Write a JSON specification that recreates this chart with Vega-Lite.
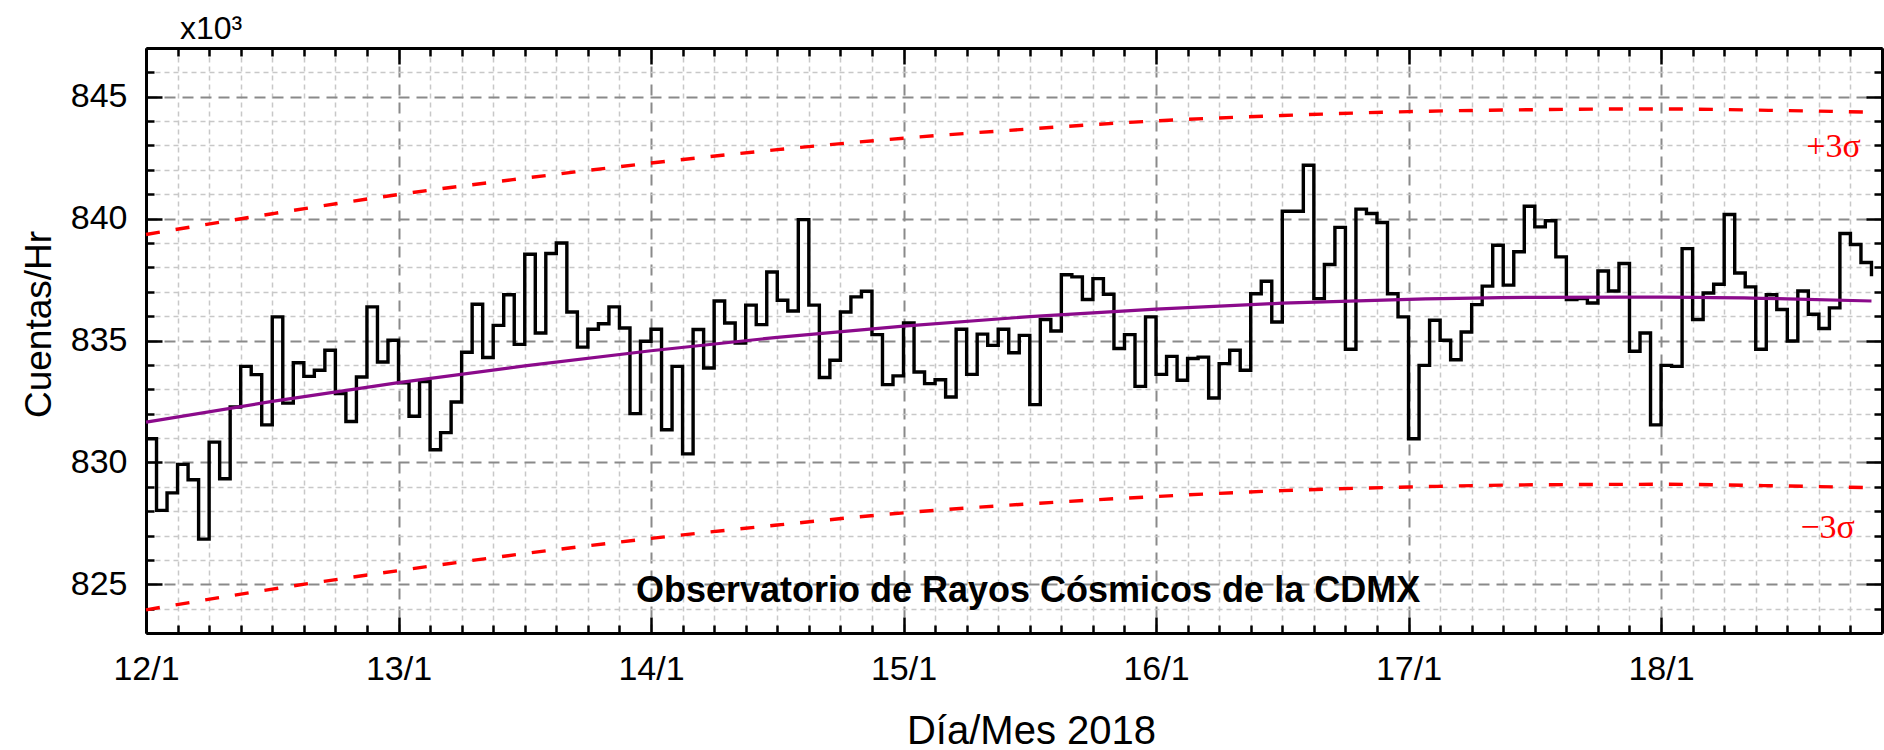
{
  "$schema": "https://vega.github.io/schema/vega-lite/v6.json",
  "width": 1736,
  "height": 585,
  "autosize": {"type": "none"},
  "padding": {"left": 146, "top": 48, "right": 2, "bottom": 117},
  "background": "white",
  "title": {"text": "x10³", "anchor": "start", "frame": "group", "dx": 34, "offset": -24, "baseline": "alphabetic", "font": "Liberation Sans", "fontSize": 32, "fontWeight": "normal", "color": "black"},
  "config": {"view": {"stroke": null}, "font": "Liberation Sans", "axis": {"labelFont": "Liberation Sans", "titleFont": "Liberation Sans"}},
  "resolve": {"axis": {"x": "independent", "y": "independent"}},
  "datasets": {
    "conteo": [
      {"fecha": "2018-01-12T00:00", "cuentas": 830970},
      {"fecha": "2018-01-12T01:00", "cuentas": 828030},
      {"fecha": "2018-01-12T02:00", "cuentas": 828750},
      {"fecha": "2018-01-12T03:00", "cuentas": 829920},
      {"fecha": "2018-01-12T04:00", "cuentas": 829290},
      {"fecha": "2018-01-12T05:00", "cuentas": 826850},
      {"fecha": "2018-01-12T06:00", "cuentas": 830830},
      {"fecha": "2018-01-12T07:00", "cuentas": 829330},
      {"fecha": "2018-01-12T08:00", "cuentas": 832270},
      {"fecha": "2018-01-12T09:00", "cuentas": 833940},
      {"fecha": "2018-01-12T10:00", "cuentas": 833600},
      {"fecha": "2018-01-12T11:00", "cuentas": 831540},
      {"fecha": "2018-01-12T12:00", "cuentas": 835970},
      {"fecha": "2018-01-12T13:00", "cuentas": 832430},
      {"fecha": "2018-01-12T14:00", "cuentas": 834090},
      {"fecha": "2018-01-12T15:00", "cuentas": 833530},
      {"fecha": "2018-01-12T16:00", "cuentas": 833780},
      {"fecha": "2018-01-12T17:00", "cuentas": 834600},
      {"fecha": "2018-01-12T18:00", "cuentas": 832820},
      {"fecha": "2018-01-12T19:00", "cuentas": 831680},
      {"fecha": "2018-01-12T20:00", "cuentas": 833500},
      {"fecha": "2018-01-12T21:00", "cuentas": 836380},
      {"fecha": "2018-01-12T22:00", "cuentas": 834120},
      {"fecha": "2018-01-12T23:00", "cuentas": 835010},
      {"fecha": "2018-01-13T00:00", "cuentas": 833260},
      {"fecha": "2018-01-13T01:00", "cuentas": 831890},
      {"fecha": "2018-01-13T02:00", "cuentas": 833320},
      {"fecha": "2018-01-13T03:00", "cuentas": 830520},
      {"fecha": "2018-01-13T04:00", "cuentas": 831220},
      {"fecha": "2018-01-13T05:00", "cuentas": 832480},
      {"fecha": "2018-01-13T06:00", "cuentas": 834520},
      {"fecha": "2018-01-13T07:00", "cuentas": 836490},
      {"fecha": "2018-01-13T08:00", "cuentas": 834300},
      {"fecha": "2018-01-13T09:00", "cuentas": 835620},
      {"fecha": "2018-01-13T10:00", "cuentas": 836880},
      {"fecha": "2018-01-13T11:00", "cuentas": 834840},
      {"fecha": "2018-01-13T12:00", "cuentas": 838540},
      {"fecha": "2018-01-13T13:00", "cuentas": 835310},
      {"fecha": "2018-01-13T14:00", "cuentas": 838570},
      {"fecha": "2018-01-13T15:00", "cuentas": 839000},
      {"fecha": "2018-01-13T16:00", "cuentas": 836170},
      {"fecha": "2018-01-13T17:00", "cuentas": 834730},
      {"fecha": "2018-01-13T18:00", "cuentas": 835460},
      {"fecha": "2018-01-13T19:00", "cuentas": 835690},
      {"fecha": "2018-01-13T20:00", "cuentas": 836380},
      {"fecha": "2018-01-13T21:00", "cuentas": 835510},
      {"fecha": "2018-01-13T22:00", "cuentas": 832000},
      {"fecha": "2018-01-13T23:00", "cuentas": 834970},
      {"fecha": "2018-01-14T00:00", "cuentas": 835460},
      {"fecha": "2018-01-14T01:00", "cuentas": 831340},
      {"fecha": "2018-01-14T02:00", "cuentas": 833940},
      {"fecha": "2018-01-14T03:00", "cuentas": 830350},
      {"fecha": "2018-01-14T04:00", "cuentas": 835450},
      {"fecha": "2018-01-14T05:00", "cuentas": 833870},
      {"fecha": "2018-01-14T06:00", "cuentas": 836620},
      {"fecha": "2018-01-14T07:00", "cuentas": 835720},
      {"fecha": "2018-01-14T08:00", "cuentas": 834900},
      {"fecha": "2018-01-14T09:00", "cuentas": 836450},
      {"fecha": "2018-01-14T10:00", "cuentas": 835650},
      {"fecha": "2018-01-14T11:00", "cuentas": 837810},
      {"fecha": "2018-01-14T12:00", "cuentas": 836650},
      {"fecha": "2018-01-14T13:00", "cuentas": 836210},
      {"fecha": "2018-01-14T14:00", "cuentas": 839960},
      {"fecha": "2018-01-14T15:00", "cuentas": 836450},
      {"fecha": "2018-01-14T16:00", "cuentas": 833480},
      {"fecha": "2018-01-14T17:00", "cuentas": 834190},
      {"fecha": "2018-01-14T18:00", "cuentas": 836170},
      {"fecha": "2018-01-14T19:00", "cuentas": 836790},
      {"fecha": "2018-01-14T20:00", "cuentas": 837020},
      {"fecha": "2018-01-14T21:00", "cuentas": 835240},
      {"fecha": "2018-01-14T22:00", "cuentas": 833190},
      {"fecha": "2018-01-14T23:00", "cuentas": 833550},
      {"fecha": "2018-01-15T00:00", "cuentas": 835720},
      {"fecha": "2018-01-15T01:00", "cuentas": 833710},
      {"fecha": "2018-01-15T02:00", "cuentas": 833230},
      {"fecha": "2018-01-15T03:00", "cuentas": 833390},
      {"fecha": "2018-01-15T04:00", "cuentas": 832680},
      {"fecha": "2018-01-15T05:00", "cuentas": 835460},
      {"fecha": "2018-01-15T06:00", "cuentas": 833610},
      {"fecha": "2018-01-15T07:00", "cuentas": 835260},
      {"fecha": "2018-01-15T08:00", "cuentas": 834800},
      {"fecha": "2018-01-15T09:00", "cuentas": 835460},
      {"fecha": "2018-01-15T10:00", "cuentas": 834500},
      {"fecha": "2018-01-15T11:00", "cuentas": 835210},
      {"fecha": "2018-01-15T12:00", "cuentas": 832370},
      {"fecha": "2018-01-15T13:00", "cuentas": 835860},
      {"fecha": "2018-01-15T14:00", "cuentas": 835390},
      {"fecha": "2018-01-15T15:00", "cuentas": 837700},
      {"fecha": "2018-01-15T16:00", "cuentas": 837610},
      {"fecha": "2018-01-15T17:00", "cuentas": 836680},
      {"fecha": "2018-01-15T18:00", "cuentas": 837540},
      {"fecha": "2018-01-15T19:00", "cuentas": 836900},
      {"fecha": "2018-01-15T20:00", "cuentas": 834670},
      {"fecha": "2018-01-15T21:00", "cuentas": 835240},
      {"fecha": "2018-01-15T22:00", "cuentas": 833120},
      {"fecha": "2018-01-15T23:00", "cuentas": 835970},
      {"fecha": "2018-01-16T00:00", "cuentas": 833610},
      {"fecha": "2018-01-16T01:00", "cuentas": 834350},
      {"fecha": "2018-01-16T02:00", "cuentas": 833370},
      {"fecha": "2018-01-16T03:00", "cuentas": 834260},
      {"fecha": "2018-01-16T04:00", "cuentas": 834320},
      {"fecha": "2018-01-16T05:00", "cuentas": 832640},
      {"fecha": "2018-01-16T06:00", "cuentas": 834050},
      {"fecha": "2018-01-16T07:00", "cuentas": 834600},
      {"fecha": "2018-01-16T08:00", "cuentas": 833780},
      {"fecha": "2018-01-16T09:00", "cuentas": 836920},
      {"fecha": "2018-01-16T10:00", "cuentas": 837430},
      {"fecha": "2018-01-16T11:00", "cuentas": 835760},
      {"fecha": "2018-01-16T12:00", "cuentas": 840300},
      {"fecha": "2018-01-16T13:00", "cuentas": 840300},
      {"fecha": "2018-01-16T14:00", "cuentas": 842190},
      {"fecha": "2018-01-16T15:00", "cuentas": 836720},
      {"fecha": "2018-01-16T16:00", "cuentas": 838120},
      {"fecha": "2018-01-16T17:00", "cuentas": 839640},
      {"fecha": "2018-01-16T18:00", "cuentas": 834640},
      {"fecha": "2018-01-16T19:00", "cuentas": 840390},
      {"fecha": "2018-01-16T20:00", "cuentas": 840210},
      {"fecha": "2018-01-16T21:00", "cuentas": 839840},
      {"fecha": "2018-01-16T22:00", "cuentas": 836920},
      {"fecha": "2018-01-16T23:00", "cuentas": 835970},
      {"fecha": "2018-01-17T00:00", "cuentas": 830970},
      {"fecha": "2018-01-17T01:00", "cuentas": 833980},
      {"fecha": "2018-01-17T02:00", "cuentas": 835830},
      {"fecha": "2018-01-17T03:00", "cuentas": 835010},
      {"fecha": "2018-01-17T04:00", "cuentas": 834210},
      {"fecha": "2018-01-17T05:00", "cuentas": 835350},
      {"fecha": "2018-01-17T06:00", "cuentas": 836470},
      {"fecha": "2018-01-17T07:00", "cuentas": 837230},
      {"fecha": "2018-01-17T08:00", "cuentas": 838910},
      {"fecha": "2018-01-17T09:00", "cuentas": 837270},
      {"fecha": "2018-01-17T10:00", "cuentas": 838640},
      {"fecha": "2018-01-17T11:00", "cuentas": 840510},
      {"fecha": "2018-01-17T12:00", "cuentas": 839660},
      {"fecha": "2018-01-17T13:00", "cuentas": 839910},
      {"fecha": "2018-01-17T14:00", "cuentas": 838430},
      {"fecha": "2018-01-17T15:00", "cuentas": 836680},
      {"fecha": "2018-01-17T16:00", "cuentas": 836720},
      {"fecha": "2018-01-17T17:00", "cuentas": 836540},
      {"fecha": "2018-01-17T18:00", "cuentas": 837850},
      {"fecha": "2018-01-17T19:00", "cuentas": 837030},
      {"fecha": "2018-01-17T20:00", "cuentas": 838160},
      {"fecha": "2018-01-17T21:00", "cuentas": 834560},
      {"fecha": "2018-01-17T22:00", "cuentas": 835310},
      {"fecha": "2018-01-17T23:00", "cuentas": 831540},
      {"fecha": "2018-01-18T00:00", "cuentas": 833980},
      {"fecha": "2018-01-18T01:00", "cuentas": 833940},
      {"fecha": "2018-01-18T02:00", "cuentas": 838770},
      {"fecha": "2018-01-18T03:00", "cuentas": 835860},
      {"fecha": "2018-01-18T04:00", "cuentas": 836950},
      {"fecha": "2018-01-18T05:00", "cuentas": 837310},
      {"fecha": "2018-01-18T06:00", "cuentas": 840170},
      {"fecha": "2018-01-18T07:00", "cuentas": 837770},
      {"fecha": "2018-01-18T08:00", "cuentas": 837200},
      {"fecha": "2018-01-18T09:00", "cuentas": 834640},
      {"fecha": "2018-01-18T10:00", "cuentas": 836880},
      {"fecha": "2018-01-18T11:00", "cuentas": 836270},
      {"fecha": "2018-01-18T12:00", "cuentas": 834980},
      {"fecha": "2018-01-18T13:00", "cuentas": 837030},
      {"fecha": "2018-01-18T14:00", "cuentas": 836080},
      {"fecha": "2018-01-18T15:00", "cuentas": 835490},
      {"fecha": "2018-01-18T16:00", "cuentas": 836340},
      {"fecha": "2018-01-18T17:00", "cuentas": 839390},
      {"fecha": "2018-01-18T18:00", "cuentas": 838940},
      {"fecha": "2018-01-18T19:00", "cuentas": 838200},
      {"fecha": "2018-01-18T20:00", "cuentas": 837640}
    ],
    "bandas": [
      {"fecha": "2018-01-12T00:00", "ajuste": 831650, "sup": 839350, "inf": 823950},
      {"fecha": "2018-01-12T12:00", "ajuste": 832500, "sup": 840200, "inf": 824800},
      {"fecha": "2018-01-13T00:00", "ajuste": 833270, "sup": 840990, "inf": 825560},
      {"fecha": "2018-01-13T12:00", "ajuste": 833960, "sup": 841660, "inf": 826260},
      {"fecha": "2018-01-14T00:00", "ajuste": 834580, "sup": 842280, "inf": 826880},
      {"fecha": "2018-01-14T12:00", "ajuste": 835130, "sup": 842830, "inf": 827430},
      {"fecha": "2018-01-15T00:00", "ajuste": 835590, "sup": 843300, "inf": 827930},
      {"fecha": "2018-01-15T12:00", "ajuste": 835980, "sup": 843680, "inf": 828300},
      {"fecha": "2018-01-16T00:00", "ajuste": 836290, "sup": 844010, "inf": 828600},
      {"fecha": "2018-01-16T12:00", "ajuste": 836530, "sup": 844230, "inf": 828840},
      {"fecha": "2018-01-17T00:00", "ajuste": 836690, "sup": 844390, "inf": 828990},
      {"fecha": "2018-01-17T12:00", "ajuste": 836770, "sup": 844470, "inf": 829080},
      {"fecha": "2018-01-18T00:00", "ajuste": 836780, "sup": 844500, "inf": 829100},
      {"fecha": "2018-01-18T12:00", "ajuste": 836710, "sup": 844430, "inf": 829030},
      {"fecha": "2018-01-18T20:00", "ajuste": 836620, "sup": 844370, "inf": 828960}
    ],
    "sigmas": [
      {"fecha": "2018-01-18T16:24", "cuentas": 842540, "texto": "+3σ"},
      {"fecha": "2018-01-18T15:50", "cuentas": 826900, "texto": "−3σ"}
    ],
    "leyenda": [
      {"fecha": "2018-01-15T11:50", "cuentas": 824260, "texto": "Observatorio de Rayos Cósmicos de la CDMX"}
    ]
  },
  "layer": [
    {
      "data": {"name": "conteo"},
      "mark": {"type": "line", "interpolate": "step-after", "color": "black", "strokeWidth": 3.4, "strokeJoin": "miter"},
      "encoding": {
        "x": {"field": "fecha", "type": "temporal",
          "scale": {"type": "time", "domain": [{"year": 2018, "month": 1, "date": 12, "hours": 0}, {"year": 2018, "month": 1, "date": 18, "hours": 21}], "nice": false},
          "axis": {"orient": "bottom",
            "values": [{"year": 2018, "month": 1, "date": 12}, {"year": 2018, "month": 1, "date": 13}, {"year": 2018, "month": 1, "date": 14}, {"year": 2018, "month": 1, "date": 15}, {"year": 2018, "month": 1, "date": 16}, {"year": 2018, "month": 1, "date": 17}, {"year": 2018, "month": 1, "date": 18}],
            "format": "%-d/%-m", "labelFontSize": 34, "labelColor": "black", "labelPadding": 35, "labelFlush": false, "labelOverlap": false,
            "tickSize": -16, "tickWidth": 2.5, "tickColor": "black",
            "domain": true, "domainColor": "black", "domainWidth": 3,
            "grid": true, "gridColor": "#8a8a8a", "gridDash": [11, 7], "gridWidth": 2,
            "title": "Día/Mes 2018", "titleFontSize": 40, "titleFontWeight": "normal", "titleColor": "black",
            "titleX": 885, "titleY": 110, "titleBaseline": "alphabetic", "titleAlign": "center"}},
        "y": {"field": "cuentas", "type": "quantitative",
          "scale": {"domain": [823000, 847000], "nice": false, "zero": false},
          "axis": {"orient": "left", "values": [825000, 830000, 835000, 840000, 845000],
            "labelExpr": "format(datum.value / 1000, 'd')", "labelFontSize": 34, "labelColor": "black", "labelPadding": 35, "labelFlush": false,
            "tickSize": -16, "tickWidth": 2.5, "tickColor": "black",
            "domain": true, "domainColor": "black", "domainWidth": 3,
            "grid": true, "gridColor": "#8a8a8a", "gridDash": [11, 7], "gridWidth": 2,
            "title": "Cuentas/Hr", "titleFontSize": 37, "titleFontWeight": "normal", "titleColor": "black",
            "titleAngle": -90, "titleX": -96, "titleY": 276, "titleBaseline": "alphabetic", "titleAlign": "center"}}
      }
    },
    {
      "data": {"name": "bandas"},
      "mark": {"type": "line", "interpolate": "monotone", "color": "#8b0a8b", "strokeWidth": 3.2},
      "encoding": {
        "x": {"field": "fecha", "type": "temporal",
          "scale": {"type": "time", "domain": [{"year": 2018, "month": 1, "date": 12, "hours": 0}, {"year": 2018, "month": 1, "date": 18, "hours": 21}], "nice": false},
          "axis": {"orient": "bottom",
            "values": [
              {"year": 2018, "month": 1, "date": 12, "hours": 3}, {"year": 2018, "month": 1, "date": 12, "hours": 6}, {"year": 2018, "month": 1, "date": 12, "hours": 9}, {"year": 2018, "month": 1, "date": 12, "hours": 12}, {"year": 2018, "month": 1, "date": 12, "hours": 15}, {"year": 2018, "month": 1, "date": 12, "hours": 18}, {"year": 2018, "month": 1, "date": 12, "hours": 21},
              {"year": 2018, "month": 1, "date": 13, "hours": 3}, {"year": 2018, "month": 1, "date": 13, "hours": 6}, {"year": 2018, "month": 1, "date": 13, "hours": 9}, {"year": 2018, "month": 1, "date": 13, "hours": 12}, {"year": 2018, "month": 1, "date": 13, "hours": 15}, {"year": 2018, "month": 1, "date": 13, "hours": 18}, {"year": 2018, "month": 1, "date": 13, "hours": 21},
              {"year": 2018, "month": 1, "date": 14, "hours": 3}, {"year": 2018, "month": 1, "date": 14, "hours": 6}, {"year": 2018, "month": 1, "date": 14, "hours": 9}, {"year": 2018, "month": 1, "date": 14, "hours": 12}, {"year": 2018, "month": 1, "date": 14, "hours": 15}, {"year": 2018, "month": 1, "date": 14, "hours": 18}, {"year": 2018, "month": 1, "date": 14, "hours": 21},
              {"year": 2018, "month": 1, "date": 15, "hours": 3}, {"year": 2018, "month": 1, "date": 15, "hours": 6}, {"year": 2018, "month": 1, "date": 15, "hours": 9}, {"year": 2018, "month": 1, "date": 15, "hours": 12}, {"year": 2018, "month": 1, "date": 15, "hours": 15}, {"year": 2018, "month": 1, "date": 15, "hours": 18}, {"year": 2018, "month": 1, "date": 15, "hours": 21},
              {"year": 2018, "month": 1, "date": 16, "hours": 3}, {"year": 2018, "month": 1, "date": 16, "hours": 6}, {"year": 2018, "month": 1, "date": 16, "hours": 9}, {"year": 2018, "month": 1, "date": 16, "hours": 12}, {"year": 2018, "month": 1, "date": 16, "hours": 15}, {"year": 2018, "month": 1, "date": 16, "hours": 18}, {"year": 2018, "month": 1, "date": 16, "hours": 21},
              {"year": 2018, "month": 1, "date": 17, "hours": 3}, {"year": 2018, "month": 1, "date": 17, "hours": 6}, {"year": 2018, "month": 1, "date": 17, "hours": 9}, {"year": 2018, "month": 1, "date": 17, "hours": 12}, {"year": 2018, "month": 1, "date": 17, "hours": 15}, {"year": 2018, "month": 1, "date": 17, "hours": 18}, {"year": 2018, "month": 1, "date": 17, "hours": 21},
              {"year": 2018, "month": 1, "date": 18, "hours": 3}, {"year": 2018, "month": 1, "date": 18, "hours": 6}, {"year": 2018, "month": 1, "date": 18, "hours": 9}, {"year": 2018, "month": 1, "date": 18, "hours": 12}, {"year": 2018, "month": 1, "date": 18, "hours": 15}, {"year": 2018, "month": 1, "date": 18, "hours": 18}, {"year": 2018, "month": 1, "date": 18, "hours": 21}
            ],
            "labels": false, "tickSize": -8, "tickWidth": 2.5, "tickColor": "black", "domain": false,
            "grid": true, "gridColor": "#c8c8c8", "gridDash": [5, 4], "gridWidth": 1.5, "title": null}},
        "y": {"field": "ajuste", "type": "quantitative",
          "scale": {"domain": [823000, 847000], "nice": false, "zero": false},
          "axis": {"orient": "left", "values": [823000, 824000, 826000, 827000, 828000, 829000, 831000, 832000, 833000, 834000, 836000, 837000, 838000, 839000, 841000, 842000, 843000, 844000, 846000, 847000],
            "labels": false, "tickSize": -8, "tickWidth": 2.5, "tickColor": "black", "domain": false,
            "grid": true, "gridColor": "#c8c8c8", "gridDash": [5, 4], "gridWidth": 1.5, "title": null}}
      }
    },
    {
      "data": {"name": "bandas"},
      "mark": {"type": "line", "interpolate": "monotone", "color": "#ff0000", "strokeWidth": 3.4, "strokeDash": [14, 16]},
      "encoding": {
        "x": {"field": "fecha", "type": "temporal",
          "scale": {"type": "time", "domain": [{"year": 2018, "month": 1, "date": 12, "hours": 0}, {"year": 2018, "month": 1, "date": 18, "hours": 21}], "nice": false},
          "axis": {"orient": "top",
            "values": [{"year": 2018, "month": 1, "date": 12}, {"year": 2018, "month": 1, "date": 13}, {"year": 2018, "month": 1, "date": 14}, {"year": 2018, "month": 1, "date": 15}, {"year": 2018, "month": 1, "date": 16}, {"year": 2018, "month": 1, "date": 17}, {"year": 2018, "month": 1, "date": 18}],
            "labels": false, "tickSize": -16, "tickWidth": 2.5, "tickColor": "black",
            "domain": true, "domainColor": "black", "domainWidth": 3, "grid": false, "title": null}},
        "y": {"field": "sup", "type": "quantitative",
          "scale": {"domain": [823000, 847000], "nice": false, "zero": false},
          "axis": {"orient": "right", "values": [825000, 830000, 835000, 840000, 845000],
            "labels": false, "tickSize": -16, "tickWidth": 2.5, "tickColor": "black",
            "domain": true, "domainColor": "black", "domainWidth": 3, "grid": false, "title": null}}
      }
    },
    {
      "data": {"name": "bandas"},
      "mark": {"type": "line", "interpolate": "monotone", "color": "#ff0000", "strokeWidth": 3.4, "strokeDash": [14, 16]},
      "encoding": {
        "x": {"field": "fecha", "type": "temporal",
          "scale": {"type": "time", "domain": [{"year": 2018, "month": 1, "date": 12, "hours": 0}, {"year": 2018, "month": 1, "date": 18, "hours": 21}], "nice": false},
          "axis": {"orient": "top",
            "values": [
              {"year": 2018, "month": 1, "date": 12, "hours": 3}, {"year": 2018, "month": 1, "date": 12, "hours": 6}, {"year": 2018, "month": 1, "date": 12, "hours": 9}, {"year": 2018, "month": 1, "date": 12, "hours": 12}, {"year": 2018, "month": 1, "date": 12, "hours": 15}, {"year": 2018, "month": 1, "date": 12, "hours": 18}, {"year": 2018, "month": 1, "date": 12, "hours": 21},
              {"year": 2018, "month": 1, "date": 13, "hours": 3}, {"year": 2018, "month": 1, "date": 13, "hours": 6}, {"year": 2018, "month": 1, "date": 13, "hours": 9}, {"year": 2018, "month": 1, "date": 13, "hours": 12}, {"year": 2018, "month": 1, "date": 13, "hours": 15}, {"year": 2018, "month": 1, "date": 13, "hours": 18}, {"year": 2018, "month": 1, "date": 13, "hours": 21},
              {"year": 2018, "month": 1, "date": 14, "hours": 3}, {"year": 2018, "month": 1, "date": 14, "hours": 6}, {"year": 2018, "month": 1, "date": 14, "hours": 9}, {"year": 2018, "month": 1, "date": 14, "hours": 12}, {"year": 2018, "month": 1, "date": 14, "hours": 15}, {"year": 2018, "month": 1, "date": 14, "hours": 18}, {"year": 2018, "month": 1, "date": 14, "hours": 21},
              {"year": 2018, "month": 1, "date": 15, "hours": 3}, {"year": 2018, "month": 1, "date": 15, "hours": 6}, {"year": 2018, "month": 1, "date": 15, "hours": 9}, {"year": 2018, "month": 1, "date": 15, "hours": 12}, {"year": 2018, "month": 1, "date": 15, "hours": 15}, {"year": 2018, "month": 1, "date": 15, "hours": 18}, {"year": 2018, "month": 1, "date": 15, "hours": 21},
              {"year": 2018, "month": 1, "date": 16, "hours": 3}, {"year": 2018, "month": 1, "date": 16, "hours": 6}, {"year": 2018, "month": 1, "date": 16, "hours": 9}, {"year": 2018, "month": 1, "date": 16, "hours": 12}, {"year": 2018, "month": 1, "date": 16, "hours": 15}, {"year": 2018, "month": 1, "date": 16, "hours": 18}, {"year": 2018, "month": 1, "date": 16, "hours": 21},
              {"year": 2018, "month": 1, "date": 17, "hours": 3}, {"year": 2018, "month": 1, "date": 17, "hours": 6}, {"year": 2018, "month": 1, "date": 17, "hours": 9}, {"year": 2018, "month": 1, "date": 17, "hours": 12}, {"year": 2018, "month": 1, "date": 17, "hours": 15}, {"year": 2018, "month": 1, "date": 17, "hours": 18}, {"year": 2018, "month": 1, "date": 17, "hours": 21},
              {"year": 2018, "month": 1, "date": 18, "hours": 3}, {"year": 2018, "month": 1, "date": 18, "hours": 6}, {"year": 2018, "month": 1, "date": 18, "hours": 9}, {"year": 2018, "month": 1, "date": 18, "hours": 12}, {"year": 2018, "month": 1, "date": 18, "hours": 15}, {"year": 2018, "month": 1, "date": 18, "hours": 18}, {"year": 2018, "month": 1, "date": 18, "hours": 21}
            ],
            "labels": false, "tickSize": -8, "tickWidth": 2.5, "tickColor": "black", "domain": false, "grid": false, "title": null}},
        "y": {"field": "inf", "type": "quantitative",
          "scale": {"domain": [823000, 847000], "nice": false, "zero": false},
          "axis": {"orient": "right", "values": [823000, 824000, 826000, 827000, 828000, 829000, 831000, 832000, 833000, 834000, 836000, 837000, 838000, 839000, 841000, 842000, 843000, 844000, 846000, 847000],
            "labels": false, "tickSize": -8, "tickWidth": 2.5, "tickColor": "black", "domain": false, "grid": false, "title": null}}
      }
    },
    {
      "data": {"name": "sigmas"},
      "mark": {"type": "text", "font": "Liberation Serif", "fontSize": 34, "color": "#ff0000", "align": "center", "baseline": "alphabetic"},
      "encoding": {
        "x": {"field": "fecha", "type": "temporal",
          "scale": {"type": "time", "domain": [{"year": 2018, "month": 1, "date": 12, "hours": 0}, {"year": 2018, "month": 1, "date": 18, "hours": 21}], "nice": false},
          "axis": null},
        "y": {"field": "cuentas", "type": "quantitative",
          "scale": {"domain": [823000, 847000], "nice": false, "zero": false}, "axis": null},
        "text": {"field": "texto"}
      }
    },
    {
      "data": {"name": "leyenda"},
      "mark": {"type": "text", "font": "Liberation Sans", "fontWeight": "bold", "fontSize": 36, "color": "black", "align": "center", "baseline": "alphabetic"},
      "encoding": {
        "x": {"field": "fecha", "type": "temporal",
          "scale": {"type": "time", "domain": [{"year": 2018, "month": 1, "date": 12, "hours": 0}, {"year": 2018, "month": 1, "date": 18, "hours": 21}], "nice": false},
          "axis": null},
        "y": {"field": "cuentas", "type": "quantitative",
          "scale": {"domain": [823000, 847000], "nice": false, "zero": false}, "axis": null},
        "text": {"field": "texto"}
      }
    }
  ]
}
